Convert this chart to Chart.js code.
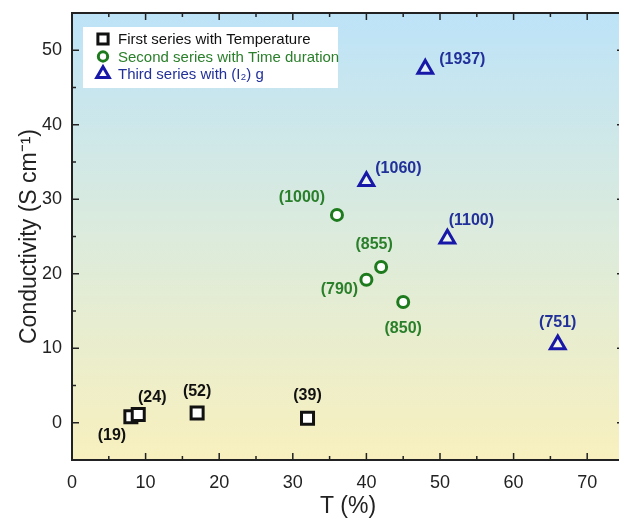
<!DOCTYPE html>
<html>
<head>
<meta charset="utf-8">
<script src="https://cdn.jsdelivr.net/npm/chart.js@4.4.1/dist/chart.umd.min.js"></script>
<style>
  html, body { margin: 0; padding: 0; background: #fff; overflow: hidden; }
  #wrap { width: 640px; height: 524px; }
</style>
</head>
<body>
<div id="wrap"><canvas id="chart"></canvas></div>
<script>
// data
const seriesNames = ["First series with Temperature", "Second series with Time duration", "Third series with (I\u2082) g"];
const firstX = [8, 9, 17, 32];
const firstY = [0.8, 1.1, 1.3, 0.6];
const firstLabels = ["(19)", "(24)", "(52)", "(39)"];
const secondX = [36, 40, 42, 45];
const secondY = [27.9, 19.2, 20.9, 16.2];
const secondLabels = ["(1000)", "(790)", "(855)", "(850)"];
const thirdX = [40, 48, 51, 66];
const thirdY = [32.4, 47.5, 24.7, 10.5];
const thirdLabels = ["(1060)", "(1937)", "(1100)", "(751)"];
const xTicks = [0, 10, 20, 30, 40, 50, 60, 70];
const yTicks = [0, 10, 20, 30, 40, 50];

// where each point label sits relative to its marker (px)
const labelOffsets = [
    [[-19, 19], [14, -17], [0, -21], [0, -23]],
    [[-35, -17], [-27, 10], [-7, -22], [0, 27]],
    [[32, -13], [37, -9], [24, -18], [0, -22]],
];

const colors = ["#111111", "#1d7a1d", "#1818a8"];
const labelColors = ["#111111", "#2a7f2a", "#22309a"];

const toPoints = (xs, ys) => xs.map((x, i) => ({ x, y: ys[i] }));

// blue-to-yellow fill behind the plot
const bgPlugin = {
    id: "bg",
    beforeDraw(chart) {
        const { ctx, chartArea: a } = chart;
        const g = ctx.createLinearGradient(0, a.top, 0, a.bottom);
        g.addColorStop(0, "#bde3f8");
        g.addColorStop(0.5, "#dcebdc");
        g.addColorStop(1, "#f8f0be");
        ctx.save();
        ctx.fillStyle = g;
        ctx.fillRect(a.left, a.top, a.right - a.left, a.bottom - a.top);
        ctx.restore();
    },
};

// frame + inward ticks on all four sides
const framePlugin = {
    id: "frame",
    afterDraw(chart) {
        const { ctx, chartArea: a, scales } = chart;
        ctx.save();
        ctx.strokeStyle = "#222";
        ctx.lineWidth = 1.5;
        const xs = scales.x, ys = scales.y;
        for (let v = xs.min; v <= xs.max; v += 5) {
            const px = xs.getPixelForValue(v);
            const len = v % 10 === 0 ? 7 : 4;
            ctx.beginPath();
            ctx.moveTo(px, a.bottom); ctx.lineTo(px, a.bottom - len);
            ctx.moveTo(px, a.top); ctx.lineTo(px, a.top + len);
            ctx.stroke();
        }
        for (let v = ys.min; v <= ys.max; v += 5) {
            const py = ys.getPixelForValue(v);
            const len = v % 10 === 0 ? 7 : 4;
            ctx.beginPath();
            ctx.moveTo(a.left, py); ctx.lineTo(a.left + len, py);
            ctx.moveTo(a.right, py); ctx.lineTo(a.right - len, py);
            ctx.stroke();
        }
        ctx.lineWidth = 2;
        ctx.strokeRect(a.left, a.top, a.right - a.left, a.bottom - a.top);
        ctx.restore();
    },
};

// point labels + legend box inside the plot
const labelPlugin = {
    id: "labels",
    afterDatasetsDraw(chart) {
        const { ctx, chartArea: a } = chart;
        ctx.save();
        ctx.font = "bold 16px 'Liberation Sans', Arial, sans-serif";
        ctx.textAlign = "center";
        ctx.textBaseline = "middle";
        chart.data.datasets.forEach((ds, di) => {
            const meta = chart.getDatasetMeta(di);
            meta.data.forEach((el, i) => {
                const [dx, dy] = labelOffsets[di][i];
                ctx.fillStyle = labelColors[di];
                ctx.fillText(ds.pointLabels[i], el.x + dx, el.y + dy);
            });
        });

        // legend
        const bx = a.left + 11, by = a.top + 14;
        ctx.fillStyle = "#ffffff";
        ctx.fillRect(bx, by, 255, 61);
        ctx.font = "15px 'Liberation Sans', Arial, sans-serif";
        ctx.textAlign = "left";
        chart.data.datasets.forEach((ds, di) => {
            const y = by + 12 + di * 17.5;
            ctx.strokeStyle = ds.borderColor;
            ctx.fillStyle = "#ffffff";
            ctx.lineWidth = 3;
            Chart.helpers.drawPoint(ctx, { pointStyle: ds.pointStyle, radius: ds.pointRadius * 0.85, borderWidth: 3 }, bx + 20, y);
            ctx.fillStyle = labelColors[di];
            ctx.fillText(ds.label, bx + 35, y + 1);
        });
        ctx.restore();
    },
};

const tickFont = { family: "'Liberation Sans', Arial, sans-serif", size: 18 };

new Chart(document.getElementById("chart"), {
    type: "scatter",
    data: {
        datasets: [
            {
                label: seriesNames[0],
                data: toPoints(firstX, firstY),
                pointLabels: firstLabels,
                pointStyle: "rect",
                pointRadius: 8.5,
                borderColor: colors[0],
                backgroundColor: "#ffffff",
                borderWidth: 3,
            },
            {
                label: seriesNames[1],
                data: toPoints(secondX, secondY),
                pointLabels: secondLabels,
                pointStyle: "circle",
                pointRadius: 5.5,
                borderColor: colors[1],
                backgroundColor: "#ffffff",
                borderWidth: 3,
            },
            {
                label: seriesNames[2],
                data: toPoints(thirdX, thirdY),
                pointLabels: thirdLabels,
                pointStyle: "triangle",
                pointRadius: 8.5,
                borderColor: colors[2],
                backgroundColor: "rgba(255,255,255,0.5)",
                borderWidth: 3,
            },
        ],
    },
    options: {
        responsive: true,
        maintainAspectRatio: false,
        animation: false,
        layout: { padding: { top: 13, right: 16, left: 0, bottom: 0 } },
        plugins: {
            legend: { display: false },
            tooltip: { enabled: false },
        },
        scales: {
            x: {
                type: "linear",
                min: 0,
                max: 75,
                afterBuildTicks: (s) => { s.ticks = xTicks.map((v) => ({ value: v })); },
                afterFit: (s) => { s.height = 64; s.paddingLeft = 0; s.paddingRight = 0; },
                grid: { display: false, drawTicks: false },
                border: { display: false },
                ticks: { color: "#222", font: tickFont, padding: 12 },
                title: {
                    display: true,
                    text: "T (%)",
                    color: "#222",
                    font: { family: "'Liberation Sans', Arial, sans-serif", size: 23 },
                    padding: { top: 8 },
                },
            },
            y: {
                type: "linear",
                min: -5,
                max: 55,
                afterBuildTicks: (s) => { s.ticks = yTicks.map((v) => ({ value: v })); },
                afterFit: (s) => { s.width = 72; s.paddingTop = 0; s.paddingBottom = 0; },
                grid: { display: false, drawTicks: false },
                border: { display: false },
                ticks: { color: "#222", font: tickFont, padding: 10 },
                title: {
                    display: true,
                    text: "Conductivity (S cm\u207B\u00B9)",
                    color: "#222",
                    font: { family: "'Liberation Sans', Arial, sans-serif", size: 23 },
                    padding: { bottom: 0, top: 16 },
                },
            },
        },
    },
    plugins: [bgPlugin, framePlugin, labelPlugin],
});
</script>
</body>
</html>
